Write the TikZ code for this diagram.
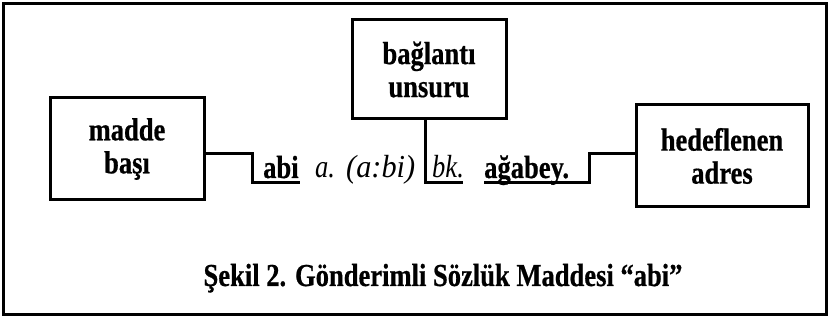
\documentclass[tikz,border=0pt]{standalone}
\usepackage{fontspec}
\setmainfont[FakeStretch=0.83,BoldFeatures={FakeBold=0.6}]{Liberation Serif}
\begin{document}
\begin{tikzpicture}[x=1pt,y=-1pt,
  box/.style={draw,line width=3pt,inner sep=0pt,align=center,font=\fontsize{32}{33}\selectfont\bfseries},
  conn/.style={line width=3pt},
  txt/.style={inner sep=0pt,anchor=base west,font=\fontsize{32}{33}\selectfont}]
\useasboundingbox (0,0) rectangle (830,320);
\draw[line width=3pt] (3.5,3.5) rectangle (826.5,314.5);
\node[box,minimum width=154pt,minimum height=102pt] (lb) at (127,149) {madde\\başı};
\node[box,minimum width=154pt,minimum height=99pt] (cb) at (429,69.5) {bağlantı\\unsuru};
\node[box,minimum width=172pt,minimum height=102pt] (rb) at (722,156) {hedeflenen\\adres};
\node[txt] (w1) at (263,178) {\bfseries abi};
\node[txt] (w2) at (315,178) {\itshape a.};
\node[txt] (w3) at (346,178) {\itshape\scalebox{1.14}[1]{(a:bi)}};
\node[txt] (w4) at (432,178) {\itshape bk.};
\node[txt] (w5) at (484,178) {\bfseries ağabey.};
\coordinate (l1) at (252,183);
\coordinate (l2) at (300,183);
\coordinate (m1) at (425,183);
\coordinate (m2) at (463,183);
\coordinate (r1) at (484,183);
\coordinate (r2) at (589,154);
\draw[conn] (lb.east |- 0,154) -| (l1) -- (l2);
\draw[conn] (m1 |- cb.south) -- (m1) -- (m2);
\draw[conn] (r1) -| (r2) -- (rb.west |- r2);
\node[inner sep=0pt,anchor=base,font=\fontsize{32}{33}\selectfont\bfseries] (cap) at (443,286) {Şekil 2. Gönderimli Sözlük Maddesi “abi”};
\end{tikzpicture}
\end{document}
